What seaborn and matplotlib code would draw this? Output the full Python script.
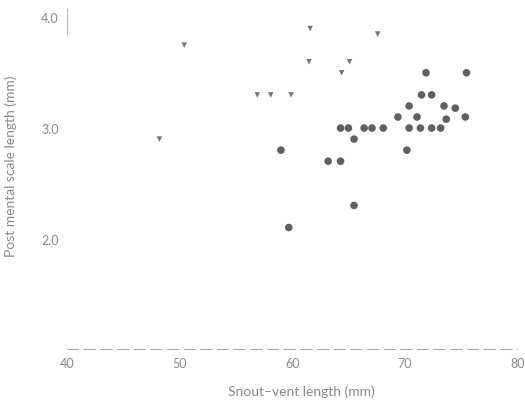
import matplotlib
matplotlib.use("Agg")
import matplotlib.pyplot as plt
import seaborn as sns
import pandas as pd

# Group A (triangles)
tri_svl = [48.2, 50.4, 56.9, 58.1, 59.9, 61.6, 61.5, 64.4, 65.1, 67.6]
tri_pml = [2.9, 3.75, 3.3, 3.3, 3.3, 3.9, 3.6, 3.5, 3.6, 3.85]

# Group B (circles)
cir_svl = [71.9, 75.5, 71.5, 72.4, 70.4, 73.5, 74.5, 69.4, 71.1, 73.7, 75.4,
           64.3, 65.0, 66.4, 67.1, 68.1, 70.4, 71.4, 72.4, 73.2,
           65.5, 70.2, 59.0, 63.2, 64.3, 65.5, 59.7]
cir_pml = [3.5, 3.5, 3.3, 3.3, 3.2, 3.2, 3.18, 3.1, 3.1, 3.08, 3.1,
           3.0, 3.0, 3.0, 3.0, 3.0, 3.0, 3.0, 3.0, 3.0,
           2.9, 2.8, 2.8, 2.7, 2.7, 2.3, 2.1]

x_ticks = [40, 50, 60, 70, 80]
x_tick_labels = ["40", "50", "60", "70", "80"]
y_ticks = [2.0, 3.0, 4.0]
y_tick_labels = ["2.0", "3.0", "4.0"]

df = pd.DataFrame({
    "svl": tri_svl + cir_svl,
    "pml": tri_pml + cir_pml,
    "group": ["A"] * len(tri_svl) + ["B"] * len(cir_svl),
})

sns.set_style("white")
plt.rcParams["font.family"] = ["Lato", "DejaVu Sans"]

fig = plt.figure(figsize=(5.25, 4.02), dpi=100)
ax = fig.add_axes([0.128, 0.129, 0.857, 0.847])

sns.scatterplot(data=df, x="svl", y="pml", hue="group", style="group",
                markers={"A": "v", "B": "o"},
                palette={"A": "#777777", "B": "#606060"},
                size="group", sizes={"A": 16, "B": 30},
                edgecolor="none", legend=False, ax=ax)

ax.set_xlim(40, 80)
ax.set_ylim(1.0, 4.08)
ax.set_xticks(x_ticks)
ax.set_xticklabels(x_tick_labels)
ax.set_yticks(y_ticks)
ax.set_yticklabels(y_tick_labels)
ax.tick_params(axis="both", length=0, labelsize=9, labelcolor="#8a8a8a", pad=6)
ax.set_xticks(range(42, 80, 2), minor=True)
ax.tick_params(axis="x", which="minor", length=3, color="#aaaaaa", direction="out")

for s in ["top", "right"]:
    ax.spines[s].set_visible(False)
ax.spines["left"].set_bounds(3.85, 4.08)
ax.spines["left"].set_color("#bbbbbb")
ax.spines["left"].set_linewidth(0.8)
ax.spines["bottom"].set_color("#aaaaaa")
ax.spines["bottom"].set_linewidth(0.8)
ax.spines["bottom"].set_linestyle((0, (10, 5)))

ax.set_xlabel("Snout\u2013vent length (mm)", fontsize=10, color="#8a8a8a")
ax.set_ylabel("Post mental scale length (mm)", fontsize=10, color="#8a8a8a")
ax.xaxis.set_label_coords(0.52, -0.105)
ax.yaxis.set_label_coords(-0.112, 0.54)

fig.savefig("out.png", dpi=100)
